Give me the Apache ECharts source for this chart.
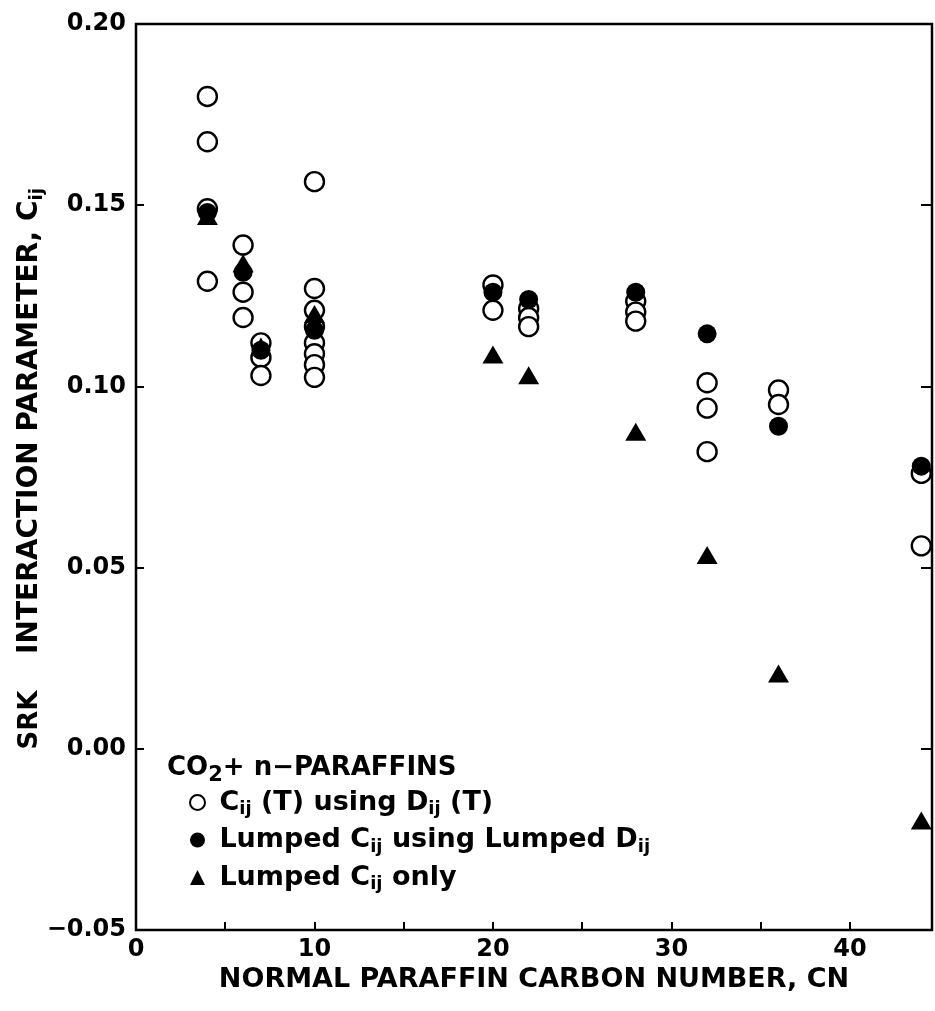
<!DOCTYPE html>
<html>
<head>
<meta charset="utf-8">
<script src="https://cdn.jsdelivr.net/npm/echarts@6/dist/echarts.min.js"></script>
<style>
  html, body { margin: 0; padding: 0; background: #fff; }
  #chart { width: 935px; height: 1011px; }
</style>
</head>
<body>
<div id="chart"></div>
<script>
// ---- data ----
const openCN  = [4, 4, 4, 4, 6, 6, 6, 7, 7, 7, 10, 10, 10, 10, 10, 10, 10, 10, 20, 20, 22, 22, 22, 28, 28, 28, 32, 32, 32, 36, 36, 44, 44];
const openCij = [0.180, 0.1675, 0.149, 0.129, 0.139, 0.126, 0.119, 0.112, 0.108, 0.103,
                 0.1565, 0.127, 0.121, 0.1165, 0.112, 0.109, 0.106, 0.1025,
                 0.128, 0.121, 0.1215, 0.119, 0.1165, 0.1235, 0.1205, 0.118,
                 0.101, 0.094, 0.082, 0.099, 0.095, 0.076, 0.056];
const lumpedCN  = [4, 6, 7, 10, 20, 22, 28, 32, 36, 44];
const lumpedCij = [0.148, 0.1315, 0.110, 0.1155, 0.126, 0.124, 0.126, 0.1145, 0.089, 0.078];
const onlyCN  = [4, 6, 7, 10, 20, 22, 28, 32, 36, 44];
const onlyCij = [0.147, 0.134, 0.111, 0.120, 0.1088, 0.1031, 0.0875, 0.0535, 0.0208, -0.0198];
const xTickLabels = [0, 10, 20, 30, 40];
const seriesNames = ['open', 'lumped', 'only'];

const FONT = 'DejaVu Sans';
const pair = (xs, ys) => xs.map((x, i) => [x, ys[i]]);
const sub = { fontFamily: FONT, fontWeight: 'bold', fontSize: 18, color: '#000', padding: [14, 0, 0, 0] };
const main = { fontFamily: FONT, fontWeight: 'bold', fontSize: 26, color: '#000' };
const legMain = Object.assign({}, main, { fontSize: 27 });

const legendText = {
  open: '{m| C}{s|ij}{m| (T) using D}{s|ij}{m| (T)}',
  lumped: '{m| Lumped C}{s|ij}{m| using Lumped D}{s|ij}',
  only: '{m| Lumped C}{s|ij}{m| only}'
};

const chart = echarts.init(document.getElementById('chart'), null, { renderer: 'canvas' });
chart.setOption({
  animation: false,
  backgroundColor: '#fff',
  grid: { left: 136, right: 1, top: 24, bottom: 81, show: true, borderColor: '#000', borderWidth: 2.5, backgroundColor: 'transparent' },
  title: {
    left: 162, top: 746,
    text: '{m|CO}{s|2}{m|+ n\u2212PARAFFINS}',
    textStyle: { rich: { m: main, s: Object.assign({}, sub, { fontSize: 21 }) } }
  },
  legend: {
    orient: 'vertical', left: 184, top: 784, itemGap: 8,
    itemWidth: 15, itemHeight: 15,
    data: seriesNames,
    formatter: n => legendText[n],
    textStyle: { rich: { m: legMain, s: sub } }
  },
  xAxis: {
    type: 'value', min: 0, max: 44.6, interval: 5,
    axisLine: { show: false, onZero: false },
    splitLine: { show: false },
    axisTick: { inside: true, length: 8, lineStyle: { color: '#000', width: 2 } },
    axisLabel: {
      margin: 8, color: '#000', fontFamily: FONT, fontWeight: 'bold', fontSize: 24,
      formatter: v => (xTickLabels.indexOf(v) >= 0 ? String(v) : '')
    },
    name: 'NORMAL PARAFFIN CARBON NUMBER, CN', nameLocation: 'middle', nameGap: 34,
    nameTextStyle: { color: '#000', fontFamily: FONT, fontWeight: 'bold', fontSize: 27 }
  },
  yAxis: [{
    type: 'value', min: -0.05, max: 0.20, interval: 0.05, position: 'left',
    axisLine: { show: false, onZero: false },
    splitLine: { show: false },
    axisTick: { inside: true, length: 8, lineStyle: { color: '#000', width: 2 } },
    axisLabel: {
      margin: 10, color: '#000', fontFamily: FONT, fontWeight: 'bold', fontSize: 24,
      formatter: v => v.toFixed(2).replace('-', '\u2212')
    }
  }, {
    type: 'value', min: -0.05, max: 0.20, interval: 0.05, position: 'right',
    axisLine: { show: false, onZero: false },
    splitLine: { show: false },
    axisTick: { inside: true, length: 11, lineStyle: { color: '#000', width: 2 } },
    axisLabel: { show: false }
  }],
  graphic: [
    {
      type: 'text', x: 30, y: 421, rotation: Math.PI / 2,
      style: {
        text: '{m|INTERACTION PARAMETER, C}{s|ij}',
        rich: { m: Object.assign({}, main, { fontSize: 28 }), s: sub },
        align: 'center', verticalAlign: 'middle'
      }
    },
    {
      type: 'text', x: 30, y: 720, rotation: Math.PI / 2,
      style: {
        text: 'SRK', fill: '#000',
        font: 'bold 26px "DejaVu Sans"',
        align: 'center', verticalAlign: 'middle'
      }
    }
  ],
  series: [
    {
      name: 'open', type: 'scatter', z: 2,
      symbol: 'circle', symbolSize: 19,
      itemStyle: { color: '#fff', borderColor: '#000', borderWidth: 2.4, opacity: 1 },
      data: pair(openCN, openCij)
    },
    {
      name: 'lumped', type: 'scatter', z: 3,
      symbol: 'circle', symbolSize: 19,
      itemStyle: { color: '#000', borderColor: '#000', borderWidth: 0, opacity: 1 },
      data: pair(lumpedCN, lumpedCij)
    },
    {
      name: 'only', type: 'scatter', z: 4,
      symbol: 'triangle', symbolSize: [21, 18],
      itemStyle: { color: '#000', opacity: 1 },
      data: pair(onlyCN, onlyCij)
    }
  ]
});
</script>
</body>
</html>
